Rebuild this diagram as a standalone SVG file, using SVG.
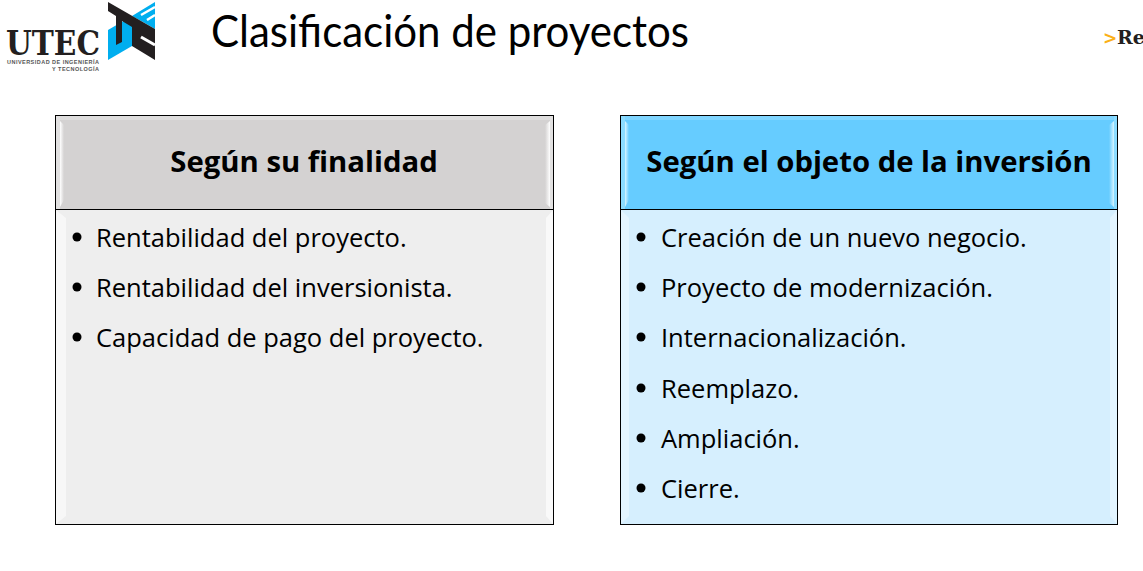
<svg xmlns="http://www.w3.org/2000/svg" width="1143" height="571" viewBox="0 0 1143 571">
<style>
text{font-family:"Open Sans","Noto Sans","Liberation Sans",sans-serif;fill:#000}
.title{font-size:45px;font-family:"Lato","Open Sans",sans-serif}
.hd{font-size:29.300px;font-weight:700;text-anchor:middle}
.it{font-size:25.500px}
.bd{fill:none;stroke:#000;stroke-width:1}
.sm{font-family:"Liberation Sans",sans-serif;font-size:5.500px;fill:#555;font-weight:700}
</style>
<defs>
<linearGradient id="gl" x1="0" x2="1" y1="0" y2="0"><stop offset="0" stop-color="#fff"/><stop offset="1" stop-color="#d4d2d2"/></linearGradient>
<linearGradient id="gr" x1="1" x2="0" y1="0" y2="0"><stop offset="0" stop-color="#fff"/><stop offset="1" stop-color="#d4d2d2"/></linearGradient>
<linearGradient id="bl" x1="0" x2="1" y1="0" y2="0"><stop offset="0" stop-color="#d8f5ff"/><stop offset="1" stop-color="#66ccff"/></linearGradient>
<linearGradient id="br" x1="1" x2="0" y1="0" y2="0"><stop offset="0" stop-color="#d8f5ff"/><stop offset="1" stop-color="#66ccff"/></linearGradient>
</defs>
<rect width="1143" height="571" fill="#fff"/>
<g id="logo">
<polygon points="108,30 132,16 132,46 108,60" fill="#00aeef"/>
<polygon points="132,16 155,2 155,29 143,22" fill="#00aeef"/>
<polygon points="108,2 155,29 155,60 132,46 132,27 122,21 122,42 116,45 116,25 116,16 108,11" fill="#231f20"/>
<path d="M141,15 155,7M147,20 155,15" stroke="#fff" stroke-width="2.500" fill="none"/>
<path d="M141,37 155,45" stroke="#fff" stroke-width="3" fill="none"/>
<text x="6" y="55" style="font-family:'DejaVu Serif',serif;font-weight:700;font-size:33px;fill:#231f20" textLength="94" lengthAdjust="spacingAndGlyphs">UTEC</text>
<text class="sm" x="7" y="64" textLength="92">UNIVERSIDAD DE INGENIERÍA</text>
<text class="sm" x="52" y="71" textLength="47">Y TECNOLOGÍA</text>
</g>
<g id="title"><text class="title" x="211" y="47" textLength="478" lengthAdjust="spacingAndGlyphs">Clasificación de proyectos</text></g>
<g id="nav">
<text x="1103" y="44" style="font-family:'DejaVu Sans',sans-serif;font-weight:700;font-size:17px;fill:#fbb017">&gt;</text>
<text x="1117" y="44" style="font-family:'DejaVu Serif',serif;font-weight:700;font-size:19px;fill:#231f20">Re</text>
</g>
<g id="left-header">
<rect x="56" y="116" width="497" height="93" fill="#d4d2d2"/>
<polygon points="56,116 553,116 550,120 60,120" fill="#dedddd"/>
<rect x="56" y="116" width="4" height="93" fill="#e2e1e1"/>
<rect x="550" y="116" width="3" height="93" fill="#e2e1e1"/>
<polygon points="60,121 64,125 64,200 60,207" fill="url(#gl)"/>
<polygon points="550,121 545,125 545,203 550,207" fill="url(#gr)"/>
<rect class="bd" x="55.500" y="115.500" width="498" height="94"/>
<text class="hd" x="304" y="172">Según su finalidad</text>
</g>
<g id="left-body">
<rect x="56" y="210" width="497" height="314" fill="#eeeeee"/>
<polygon points="56,210 66,218 66,516 56,524" fill="#f7f7f7"/>
<polygon points="553,210 546,218 546,516 553,524" fill="#f9f9f9"/>
<rect class="bd" x="55.500" y="209.500" width="498" height="315"/>
<circle cx="77" cy="237" r="4.500"/><text class="it" x="96" y="246.500">Rentabilidad del proyecto.</text>
<circle cx="77" cy="287" r="4.500"/><text class="it" x="96" y="296.500">Rentabilidad del inversionista.</text>
<circle cx="77" cy="337" r="4.500"/><text class="it" x="96" y="346.500">Capacidad de pago del proyecto.</text>
</g>
<g id="right-header">
<rect x="621" y="116" width="496" height="93" fill="#66ccff"/>
<polygon points="621,116 1117,116 1114,120 625,120" fill="#7fd5ff"/>
<rect x="621" y="116" width="4" height="93" fill="#8cdcff"/>
<rect x="1114" y="116" width="3" height="93" fill="#8cdcff"/>
<polygon points="625,121 629,125 629,200 625,207" fill="url(#bl)"/>
<polygon points="1114,121 1109,125 1109,203 1114,207" fill="url(#br)"/>
<rect class="bd" x="620.500" y="115.500" width="497" height="94"/>
<text class="hd" x="869" y="172">Según el objeto de la inversión</text>
</g>
<g id="right-body">
<rect x="621" y="210" width="496" height="314" fill="#d6effe"/>
<polygon points="621,210 629,218 629,516 621,524" fill="#e4f5ff"/>
<polygon points="1117,210 1110,218 1110,516 1117,524" fill="#e4f5ff"/>
<rect class="bd" x="620.500" y="209.500" width="497" height="315"/>
<circle cx="641" cy="237" r="4.500"/><text class="it" x="661" y="246.500">Creación de un nuevo negocio.</text>
<circle cx="641" cy="287" r="4.500"/><text class="it" x="661" y="296.500">Proyecto de modernización.</text>
<circle cx="641" cy="337" r="4.500"/><text class="it" x="661" y="346.500">Internacionalización.</text>
<circle cx="641" cy="388" r="4.500"/><text class="it" x="661" y="397.500">Reemplazo.</text>
<circle cx="641" cy="438" r="4.500"/><text class="it" x="661" y="447.500">Ampliación.</text>
<circle cx="641" cy="488" r="4.500"/><text class="it" x="661" y="497.500">Cierre.</text>
</g>
</svg>
